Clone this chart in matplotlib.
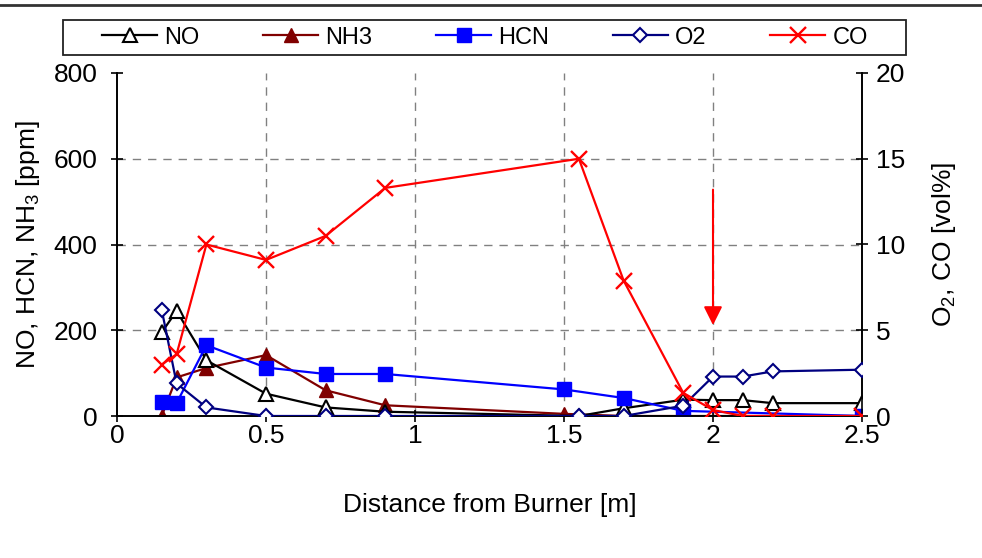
import matplotlib
matplotlib.use("Agg")
import matplotlib.pyplot as plt
from matplotlib.lines import Line2D
from matplotlib.patches import Rectangle

plt.rcParams['font.family'] = ['Liberation Sans', 'DejaVu Sans']
plt.rcParams['mathtext.fontset'] = 'custom'
plt.rcParams['mathtext.rm'] = 'Liberation Sans'
plt.rcParams['mathtext.it'] = 'Liberation Sans:italic'

# ---- data ----
no_x = [0.15, 0.2, 0.3, 0.5, 0.7, 0.9, 1.55, 1.7, 1.9, 2.0, 2.1, 2.2, 2.5]
no_y = [195, 245, 130, 52, 20, 10, 0, 18, 38, 37, 37, 30, 30]

nh3_x = [0.15, 0.2, 0.3, 0.5, 0.7, 0.9, 1.5, 1.7, 1.9, 2.5]
nh3_y = [0, 90, 112, 142, 60, 25, 5, 0, 0, 0]

hcn_x = [0.15, 0.2, 0.3, 0.5, 0.7, 0.9, 1.5, 1.7, 1.9, 2.5]
hcn_y = [32, 30, 165, 113, 98, 98, 62, 42, 12, 0]

o2_x = [0.15, 0.2, 0.3, 0.5, 0.7, 0.9, 1.55, 1.7, 1.9, 2.0, 2.1, 2.2, 2.5]
o2_y = [6.2, 1.9, 0.5, 0.0, 0.0, 0.0, 0.0, 0.0, 0.6, 2.3, 2.3, 2.6, 2.7]

co_x = [0.15, 0.2, 0.3, 0.5, 0.7, 0.9, 1.55, 1.7, 1.9, 2.0, 2.1, 2.2, 2.5]
co_y = [3.0, 3.6, 10.0, 9.1, 10.5, 13.3, 15.0, 7.9, 1.35, 0.35, 0.0, 0.0, 0.0]

arrow_x = 2.0
arrow_from = 13.2
arrow_to = 5.3

xticks = [0, 0.5, 1, 1.5, 2, 2.5]
xticklabels = ['0', '0.5', '1', '1.5', '2', '2.5']
yticks_left = [0, 200, 400, 600, 800]
yticks_right = [0, 5, 10, 15, 20]
legend_labels = ['NO', 'NH3', 'HCN', 'O2', 'CO']

# ---- figure ----
fig = plt.figure(figsize=(9.82, 5.58), dpi=100)
ax = fig.add_axes([117/982, 1-416/558, 745/982, 343/558])
ax2 = ax.twinx()

lw = 1.6
l_no, = ax.plot(no_x, no_y, color='black', lw=lw, marker='^', ms=10,
                mfc='white', mec='black', mew=1.5, zorder=3)
l_nh3, = ax.plot(nh3_x, nh3_y, color='#800000', lw=lw, marker='^', ms=10,
                 mfc='#800000', mec='#800000', zorder=2)
l_hcn, = ax.plot(hcn_x, hcn_y, color='#0000FF', lw=lw, marker='s', ms=10,
                 mfc='#0000FF', mec='#0000FF', zorder=4)
l_o2, = ax2.plot(o2_x, o2_y, color='#000080', lw=lw, marker='D', ms=7.5,
                 mfc='white', mec='#000080', mew=1.5, zorder=3)
l_co, = ax2.plot(co_x, co_y, color='#FF0000', lw=lw, marker='x', ms=11,
                 mew=1.7, zorder=4)

ax2.annotate('', xy=(arrow_x, arrow_to), xytext=(arrow_x, arrow_from),
             arrowprops=dict(arrowstyle='-|>', color='#FF0000', lw=1.5,
                             mutation_scale=28, shrinkA=0, shrinkB=0))

ax.set_xlim(0, 2.5)
ax.set_ylim(0, 800)
ax2.set_ylim(0, 20)
ax.set_xticks(xticks)
ax.set_xticklabels(xticklabels)
ax.set_yticks(yticks_left)
ax2.set_yticks(yticks_right)

for a in (ax, ax2):
    a.spines['top'].set_visible(False)
    for s in a.spines.values():
        s.set_linewidth(1.2)
ax.tick_params(axis='both', labelsize=19, direction='inout', length=8, width=1.2)
ax.tick_params(axis='y', pad=10)
ax.tick_params(axis='x', pad=2)
ax2.tick_params(axis='y', labelsize=19, direction='inout', length=8, width=1.2, pad=6)

ax.grid(True, color='#808080', linestyle=(0, (6, 5)), lw=1.0)
ax.set_axisbelow(True)
ax.get_ygridlines()[-1].set_visible(False)
ax.get_xgridlines()[0].set_visible(False)
ax.get_xgridlines()[-1].set_visible(False)

ax.set_xlabel('Distance from Burner [m]', fontsize=19, labelpad=32)
ax.set_ylabel(r'NO, HCN, NH$\mathregular{_3}$ [ppm]', fontsize=19, labelpad=8)
ax2.set_ylabel(r'O$\mathregular{_2}$, CO [vol%]', fontsize=19, labelpad=18)

leg = fig.legend(handles=[l_no, l_nh3, l_hcn, l_o2, l_co], labels=legend_labels,
                 loc='center', bbox_to_anchor=(485/982, 1-37.5/558),
                 ncol=5, fontsize=17, frameon=False, handlelength=2.33,
                 handletextpad=0.3, columnspacing=2.7, borderaxespad=0,
                 borderpad=0)
fig.add_artist(Rectangle((63/982, 1-55/558), (906-63)/982, 35/558,
                         transform=fig.transFigure, fill=False,
                         edgecolor='#222222', lw=1.3))

fig.add_artist(Line2D([0, 1], [1-5/558, 1-5/558], color='#333333', lw=2,
                      transform=fig.transFigure))

fig.savefig('out.png', dpi=100)
